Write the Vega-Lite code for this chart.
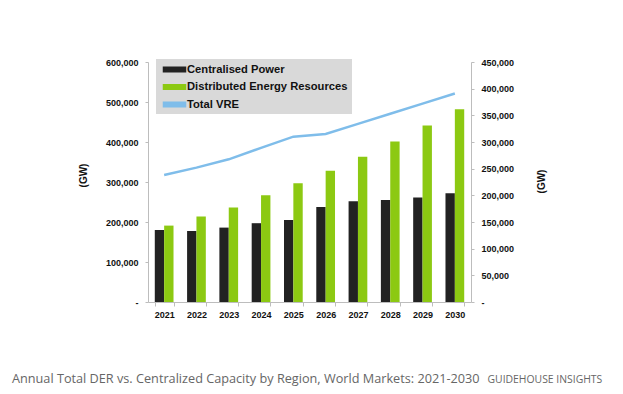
{
  "$schema": "https://vega.github.io/schema/vega-lite/v6.json",
  "width": 323,
  "height": 240,
  "autosize": {"type": "none"},
  "padding": {"left": 148, "top": 62, "right": 152, "bottom": 92},
  "background": "#ffffff",
  "config": {"view": {"stroke": null}, "font": "Liberation Sans"},
  "title": {
    "text": "Annual Total DER vs. Centralized Capacity by Region, World Markets: 2021-2030",
    "orient": "bottom",
    "anchor": "start",
    "frame": "group",
    "dx": -136,
    "offset": -11,
    "font": "Open Sans",
    "fontSize": 12.7,
    "fontWeight": "normal",
    "color": "#666666"
  },
  "datasets": {
    "bars": [
      {"year": "2021", "series": "Centralised Power", "value": 180000},
      {"year": "2021", "series": "Distributed Energy Resources", "value": 191000},
      {"year": "2022", "series": "Centralised Power", "value": 177500},
      {"year": "2022", "series": "Distributed Energy Resources", "value": 214000},
      {"year": "2023", "series": "Centralised Power", "value": 186000},
      {"year": "2023", "series": "Distributed Energy Resources", "value": 236000},
      {"year": "2024", "series": "Centralised Power", "value": 197000},
      {"year": "2024", "series": "Distributed Energy Resources", "value": 267000},
      {"year": "2025", "series": "Centralised Power", "value": 205000},
      {"year": "2025", "series": "Distributed Energy Resources", "value": 297000},
      {"year": "2026", "series": "Centralised Power", "value": 237500},
      {"year": "2026", "series": "Distributed Energy Resources", "value": 328000},
      {"year": "2027", "series": "Centralised Power", "value": 252000},
      {"year": "2027", "series": "Distributed Energy Resources", "value": 363000},
      {"year": "2028", "series": "Centralised Power", "value": 255000},
      {"year": "2028", "series": "Distributed Energy Resources", "value": 401000},
      {"year": "2029", "series": "Centralised Power", "value": 261000},
      {"year": "2029", "series": "Distributed Energy Resources", "value": 441000},
      {"year": "2030", "series": "Centralised Power", "value": 272000},
      {"year": "2030", "series": "Distributed Energy Resources", "value": 482000}
    ],
    "vre": [
      {"year": "2021", "series": "Total VRE", "value": 238000},
      {"year": "2022", "series": "Total VRE", "value": 252000},
      {"year": "2023", "series": "Total VRE", "value": 267500},
      {"year": "2024", "series": "Total VRE", "value": 289000},
      {"year": "2025", "series": "Total VRE", "value": 310000},
      {"year": "2026", "series": "Total VRE", "value": 315000},
      {"year": "2027", "series": "Total VRE", "value": 334000},
      {"year": "2028", "series": "Total VRE", "value": 353000},
      {"year": "2029", "series": "Total VRE", "value": 372000},
      {"year": "2030", "series": "Total VRE", "value": 391000}
    ]
  },
  "layer": [
    {
      "data": {"name": "bars"},
      "mark": {"type": "bar"},
      "encoding": {
        "x": {
          "field": "year",
          "type": "ordinal",
          "scale": {"paddingInner": 0.42, "paddingOuter": 0.21},
          "axis": {
            "labelAngle": 0,
            "labelFont": "Liberation Sans",
            "labelFontWeight": "bold",
            "labelFontSize": 9,
            "labelColor": "#111111",
            "labelPadding": 4,
            "domainColor": "#bdbdbd",
            "tickColor": "#bdbdbd",
            "tickBand": "extent",
            "tickSize": 4,
            "title": "GUIDEHOUSE INSIGHTS",
            "titleX": 339,
            "titleY": 80,
            "titleAlign": "left",
            "titleBaseline": "alphabetic",
            "titleFont": "Open Sans",
            "titleFontSize": 10.4,
            "titleFontWeight": "normal",
            "titleColor": "#666666"
          }
        },
        "xOffset": {
          "field": "series",
          "sort": ["Centralised Power", "Distributed Energy Resources"],
          "scale": {"paddingInner": 0}
        },
        "y": {
          "field": "value",
          "type": "quantitative",
          "scale": {"domain": [0, 600000]},
          "axis": {
            "orient": "left",
            "values": [0, 100000, 200000, 300000, 400000, 500000, 600000],
            "labelExpr": "datum.value == 0 ? '-' : format(datum.value, ',')",
            "labelFont": "Liberation Sans",
            "labelFontWeight": "bold",
            "labelFontSize": 9,
            "labelColor": "#111111",
            "labelPadding": 7,
            "tickSize": 3,
            "domainColor": "#bdbdbd",
            "tickColor": "#bdbdbd",
            "grid": false,
            "title": "(GW)",
            "titleFont": "Liberation Sans",
            "titleFontSize": 10,
            "titleFontWeight": "bold",
            "titleColor": "#111111",
            "titleAngle": 270,
            "titleX": -65,
            "titleY": 113,
            "titleAlign": "center",
            "titleBaseline": "middle"
          }
        },
        "color": {
          "field": "series",
          "type": "nominal",
          "scale": {
            "domain": ["Centralised Power", "Distributed Energy Resources", "Total VRE"],
            "range": ["#222222", "#8cc912", "#7fbdea"]
          },
          "legend": {
            "title": null,
            "orient": "none",
            "legendX": 8,
            "legendY": -3,
            "fillColor": "#d9d9d9",
            "padding": 4,
            "symbolType": "M-2,-0.4H2V0.4H-2Z",
            "symbolSize": 121,
            "symbolOffset": 8,
            "labelOffset": 6,
            "labelLimit": 400,
            "rowPadding": 5.5,
            "labelFont": "Liberation Sans",
            "labelFontWeight": "bold",
            "labelFontSize": 11.2,
            "labelColor": "#111111"
          }
        }
      }
    },
    {
      "data": {"name": "vre"},
      "mark": {"type": "line", "strokeWidth": 2.5},
      "encoding": {
        "x": {"field": "year", "type": "ordinal"},
        "y": {
          "field": "value",
          "type": "quantitative",
          "scale": {"domain": [0, 450000]},
          "axis": {
            "orient": "right",
            "values": [0, 50000, 100000, 150000, 200000, 250000, 300000, 350000, 400000, 450000],
            "labelExpr": "datum.value == 0 ? '-' : format(datum.value, ',')",
            "labelFont": "Liberation Sans",
            "labelFontWeight": "bold",
            "labelFontSize": 9,
            "labelColor": "#111111",
            "labelPadding": 7,
            "tickSize": 3,
            "domainColor": "#bdbdbd",
            "tickColor": "#bdbdbd",
            "grid": false,
            "title": "(GW)",
            "titleFont": "Liberation Sans",
            "titleFontSize": 10,
            "titleFontWeight": "bold",
            "titleColor": "#111111",
            "titleAngle": 270,
            "titleX": 70,
            "titleY": 119,
            "titleAlign": "center",
            "titleBaseline": "middle"
          }
        },
        "color": {
          "field": "series",
          "type": "nominal",
          "scale": {
            "domain": ["Centralised Power", "Distributed Energy Resources", "Total VRE"],
            "range": ["#222222", "#8cc912", "#7fbdea"]
          },
          "legend": null
        }
      }
    }
  ],
  "resolve": {"scale": {"y": "independent"}}
}
